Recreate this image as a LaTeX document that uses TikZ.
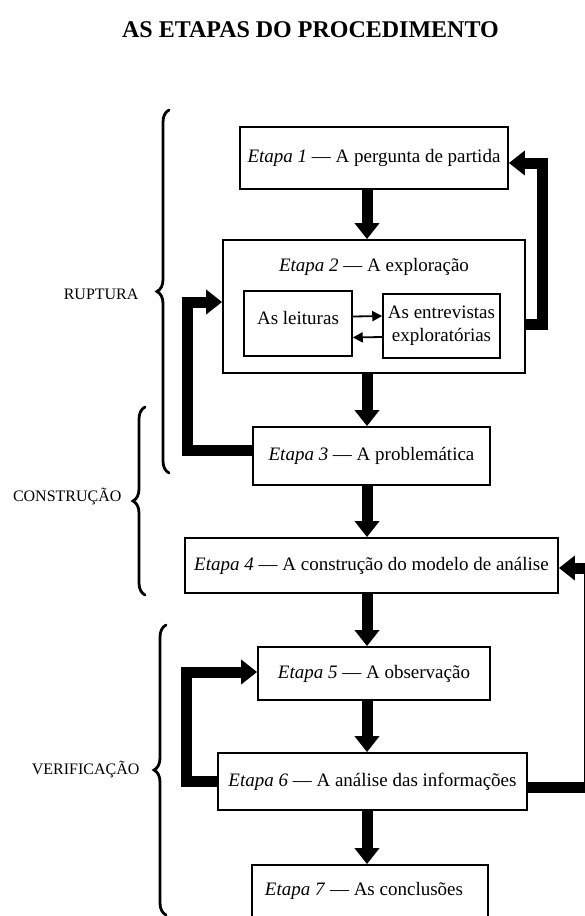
\documentclass[tikz,border=0pt]{standalone}
\usepackage{fontspec}
\setmainfont{Liberation Serif}
\usetikzlibrary{arrows.meta,decorations.pathreplacing}

\begin{document}
\begin{tikzpicture}[x=1pt,y=1pt,
  box/.style={draw, line width=1.8pt, inner sep=0pt, align=center,
    font=\fontsize{19}{23}\selectfont},
  innerbox/.style={draw, line width=1.5pt, inner sep=0pt, align=center,
    font=\fontsize{19}{23}\selectfont},
  flow/.style={line width=11pt, miter limit=10, line join=miter,
    -{Triangle[width=24pt,length=16pt]}},
  thin arrow/.style={line width=1.8pt, -{Triangle[width=10pt,length=10pt]}},
  bracket/.style={line width=2.8pt, line cap=round,
    decorate, decoration={brace, amplitude=12pt, aspect=0.5}},
  phase/.style={anchor=east, font=\fontsize{16}{18}\selectfont},
]
\useasboundingbox (0,0) rectangle (585,-916);
\clip (0,0) rectangle (585,-916);

% heading
\node[font=\bfseries\fontsize{24}{27}\selectfont] (title) at (310.5,-30) {AS ETAPAS DO PROCEDIMENTO};

% the seven stages
\node[box, minimum width=268pt, minimum height=62pt] (e1) at (374,-158)
  {\textit{Etapa 1} — A pergunta de partida};
\node[box, minimum width=302pt, minimum height=133pt] (e2) at (374,-306.5) {};
\node[font=\fontsize{19}{23}\selectfont] (e2t) at (374,-267)
  {\textit{Etapa 2} — A exploração};
\node[innerbox, minimum width=108pt, minimum height=65pt] (lei) at (298,-323.5) {};
\node[font=\fontsize{19}{23}\selectfont] (leit) at (298,-318) {As leituras};
\node[innerbox, minimum width=117pt, minimum height=64pt] (ent) at (441.5,-326)
  {As entrevistas\\exploratórias};
\node[box, minimum width=237pt, minimum height=58pt] (e3) at (371.5,-456)
  {\textit{Etapa 3} — A problemática};
\node[box, minimum width=373pt, minimum height=55pt] (e4) at (371.5,-565.5)
  {\textit{Etapa 4} — A construção do modelo de análise};
\node[box, minimum width=232pt, minimum height=53pt] (e5) at (374,-673.5)
  {\textit{Etapa 5} — A observação};
\node[box, minimum width=309pt, minimum height=57pt] (e6) at (372.5,-781.5)
  {\textit{Etapa 6} — A análise das informações};
\node[box, minimum width=236pt, minimum height=60pt] (e7) at (370,-895) {};
\node[font=\fontsize{19}{23}\selectfont] (e7t) at (364,-891)
  {\textit{Etapa 7} — As conclusões};

% main sequence
\coordinate (col) at (367,0);
\draw[flow] (e1.south -| col) -- (e2.north -| col);
\draw[flow] (e2.south -| col) -- (e3.north -| col);
\draw[flow] (e3.south -| col) -- (e4.north -| col);
\draw[flow] (e4.south -| col) -- (e5.north -| col);
\draw[flow] (e5.south -| col) -- (e6.north -| col);
\draw[flow] (e6.south -| col) -- (e7.north -| col);

% exchange inside stage 2
\draw[thin arrow] ([yshift=7]lei.east) -- ([yshift=10]ent.west);
\draw[thin arrow] ([yshift=-11]ent.west) -- ([yshift=-14]lei.east);

% feedback loops
\draw[flow] ([yshift=-17.5]e2.east) -- ++(17,0) |- ([yshift=-5]e1.east);
\draw[flow] ([yshift=6]e3.west) -- ++(-65,0) |- ([yshift=4.5]e2.west);
\draw[flow] (e6.west) -- ++(-31,0) |- ([yshift=1.5]e5.west);
\draw[flow] ([yshift=-5.5]e6.east) -- ++(62,0) |- ([yshift=-2.5]e4.east);

% phases
\draw[bracket] (169,-473) -- (169,-110);
\node[phase] (rup) at (142,-294) {RUPTURA};
\draw[bracket] (145,-595) -- (145,-407);
\node[phase] (con) at (125,-497) {CONSTRUÇÃO};
\draw[bracket] (166,-915) -- (166,-625);
\node[phase] (ver) at (143,-769) {VERIFICAÇÃO};
\end{tikzpicture}
\end{document}
